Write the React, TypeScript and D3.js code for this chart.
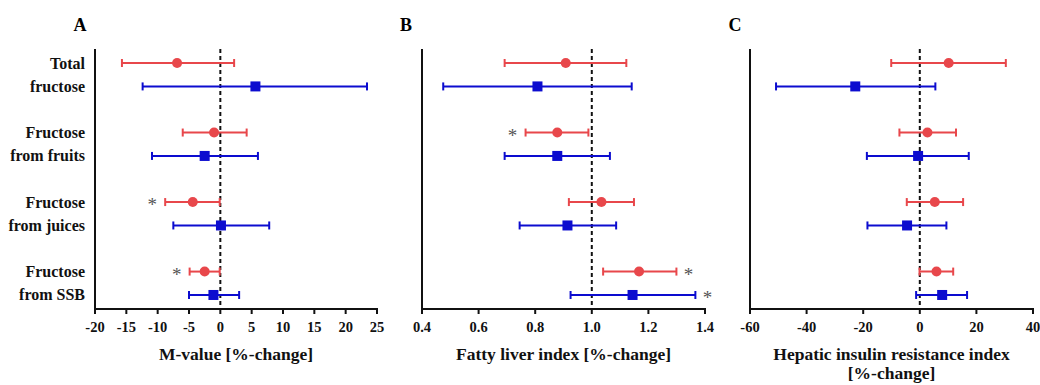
import React from "react";
import * as d3 from "d3";

// ---------- DATA ----------
const categories = ["Total fructose", "Fructose from fruits", "Fructose from juices", "Fructose from SSB"];
const labelLines = [["Total", "fructose"], ["Fructose", "from fruits"], ["Fructose", "from juices"], ["Fructose", "from SSB"]];

// Panel A: M-value [%-change]
const mRedMean = [-6.9, -1.0, -4.4, -2.5];
const mRedLow = [-15.7, -6.0, -8.8, -4.9];
const mRedHigh = [2.2, 4.2, -0.1, -0.1];
const mBlueMean = [5.6, -2.5, 0.1, -1.1];
const mBlueLow = [-12.4, -10.9, -7.5, -5.0];
const mBlueHigh = [23.4, 6.0, 7.8, 3.0];
const mTicks = [-20, -15, -10, -5, 0, 5, 10, 15, 20, 25];

// Panel B: Fatty liver index [%-change]
const fRedMean = [0.908, 0.878, 1.034, 1.167];
const fRedLow = [0.692, 0.766, 0.919, 1.04];
const fRedHigh = [1.122, 0.988, 1.149, 1.299];
const fBlueMean = [0.808, 0.878, 0.914, 1.144];
const fBlueLow = [0.475, 0.692, 0.745, 0.925];
const fBlueHigh = [1.141, 1.064, 1.086, 1.366];
const fTicks = [0.4, 0.6, 0.8, 1.0, 1.2, 1.4];

// Panel C: Hepatic insulin resistance index [%-change]
const hRedMean = [10.2, 2.7, 5.3, 5.9];
const hRedLow = [-10.1, -7.2, -4.6, -0.1];
const hRedHigh = [30.4, 12.8, 15.3, 11.8];
const hBlueMean = [-22.8, -0.6, -4.5, 7.9];
const hBlueLow = [-50.8, -18.7, -18.5, -1.3];
const hBlueHigh = [5.5, 17.3, 9.4, 16.7];
const hTicks = [-60, -40, -20, 0, 20, 40];

// Significance markers: [panel, category index, series, side]
const stars: [string, number, "red" | "blue", "left" | "right"][] = [
  ["A", 2, "red", "left"],
  ["A", 3, "red", "left"],
  ["B", 1, "red", "left"],
  ["B", 3, "red", "right"],
  ["B", 3, "blue", "right"],
];

// ---------- LAYOUT ----------
const W = 1040;
const H = 385;
const TOP = 49;
const BOTTOM = 309;
const RED = "#e8474b";
const BLUE = "#0c0ccf";
const FONT = '"Liberation Serif", "Times New Roman", Times, "DejaVu Serif", serif';
const serif = { fontFamily: FONT } as React.CSSProperties;

const yGroup = d3.scalePoint<string>().domain(categories).range([TOP, BOTTOM]).padding(0.37);
const OFF = 11.7;

const intFmt = (v: number) => d3.format("d")(v).replace("\u2212", "-");
const decFmt = (v: number) => d3.format(".1f")(v).replace("\u2212", "-");

type Panel = {
  id: string;
  domain: [number, number];
  range: [number, number];
  ticks: number[];
  fmt: (v: number) => string;
  title: string[];
  red: { mean: number[]; low: number[]; high: number[] };
  blue: { mean: number[]; low: number[]; high: number[] };
  letterX: number;
};

const panels: Panel[] = [
  {
    id: "A", domain: [-20, 25], range: [95, 377], ticks: mTicks, fmt: intFmt,
    title: ["M-value [%-change]"],
    red: { mean: mRedMean, low: mRedLow, high: mRedHigh },
    blue: { mean: mBlueMean, low: mBlueLow, high: mBlueHigh },
    letterX: 80,
  },
  {
    id: "B", domain: [0.4, 1.4], range: [422, 705], ticks: fTicks, fmt: decFmt,
    title: ["Fatty liver index [%-change]"],
    red: { mean: fRedMean, low: fRedLow, high: fRedHigh },
    blue: { mean: fBlueMean, low: fBlueLow, high: fBlueHigh },
    letterX: 406,
  },
  {
    id: "C", domain: [-60, 40], range: [750, 1033], ticks: hTicks, fmt: intFmt,
    title: ["Hepatic insulin resistance index", "[%-change]"],
    red: { mean: hRedMean, low: hRedLow, high: hRedHigh },
    blue: { mean: hBlueMean, low: hBlueLow, high: hBlueHigh },
    letterX: 735,
  },
];

function PanelView({ p }: { p: Panel }) {
  const x = d3.scaleLinear().domain(p.domain).range(p.range);
  const ref = p.id === "B" ? 1.0 : 0;
  const cx = (p.range[0] + p.range[1]) / 2;
  const series: { key: "red" | "blue"; color: string; off: number }[] = [
    { key: "red", color: RED, off: -OFF },
    { key: "blue", color: BLUE, off: OFF },
  ];
  return (
    <g>
      <text x={p.letterX} y={31} textAnchor="middle" style={serif} fontWeight="bold" fontSize={18}>
        {p.id}
      </text>
      <line x1={x(ref)} x2={x(ref)} y1={TOP} y2={BOTTOM} stroke="#111" strokeWidth={2} strokeDasharray="4,3" />
      {series.map((s) =>
        categories.map((c, i) => {
          const d = p[s.key];
          const y = (yGroup(c) as number) + s.off;
          const x0 = x(d.low[i]);
          const x1 = x(d.high[i]);
          const xm = x(d.mean[i]);
          return (
            <g key={s.key + i}>
              <line x1={x0} x2={x1} y1={y} y2={y} stroke={s.color} strokeWidth={2} />
              <line x1={x0} x2={x0} y1={y - 4} y2={y + 4} stroke={s.color} strokeWidth={2} />
              <line x1={x1} x2={x1} y1={y - 4} y2={y + 4} stroke={s.color} strokeWidth={2} />
              {s.key === "red" ? (
                <circle cx={xm} cy={y} r={5} fill={s.color} />
              ) : (
                <rect x={xm - 5} y={y - 5} width={10} height={10} fill={s.color} />
              )}
            </g>
          );
        })
      )}
      {stars
        .filter((st) => st[0] === p.id)
        .map((st, k) => {
          const d = p[st[2]];
          const y = (yGroup(categories[st[1]]) as number) + (st[2] === "red" ? -OFF : OFF);
          const xs = st[3] === "left" ? x(d.low[st[1]]) - 13 : x(d.high[st[1]]) + 12;
          return (
            <text key={k} x={xs} y={y + 9} textAnchor="middle" style={serif} fontSize={19} fill="#555">
              *
            </text>
          );
        })}
      <line x1={p.range[0]} x2={p.range[0]} y1={TOP} y2={BOTTOM + 1} stroke="#111" strokeWidth={2} />
      <line x1={p.range[0] - 1} x2={p.range[1] + 1} y1={BOTTOM} y2={BOTTOM} stroke="#111" strokeWidth={2} />
      {p.ticks.map((t) => (
        <g key={t}>
          <line x1={x(t)} x2={x(t)} y1={BOTTOM} y2={BOTTOM + 5} stroke="#111" strokeWidth={2} />
          <text x={x(t)} y={BOTTOM + 23} textAnchor="middle" style={serif} fontWeight="bold" fontSize={14.5} fill="#111">
            {p.fmt(t)}
          </text>
        </g>
      ))}
      {p.title.map((line, k) => (
        <text key={k} x={cx} y={360 + k * 19} textAnchor="middle" style={serif} fontWeight="bold" fontSize={17.5} fill="#111">
          {line}
        </text>
      ))}
    </g>
  );
}

export default function App() {
  return (
    <svg
      width={W}
      height={H}
      viewBox={`0 0 ${W} ${H}`}
      style={{ position: "absolute", left: 0, top: 0, background: "#fff" }}
    >
      <rect width={W} height={H} fill="#fff" />
      {categories.map((c, i) => {
        const yc = yGroup(c) as number;
        return (
          <g key={c}>
            <text x={85} y={yc - OFF + 5.5} textAnchor="end" style={serif} fontWeight="bold" fontSize={16} fill="#111">
              {labelLines[i][0]}
            </text>
            <text x={85} y={yc + OFF + 5.5} textAnchor="end" style={serif} fontWeight="bold" fontSize={16} fill="#111">
              {labelLines[i][1]}
            </text>
          </g>
        );
      })}
      {panels.map((p) => (
        <PanelView key={p.id} p={p} />
      ))}
    </svg>
  );
}
